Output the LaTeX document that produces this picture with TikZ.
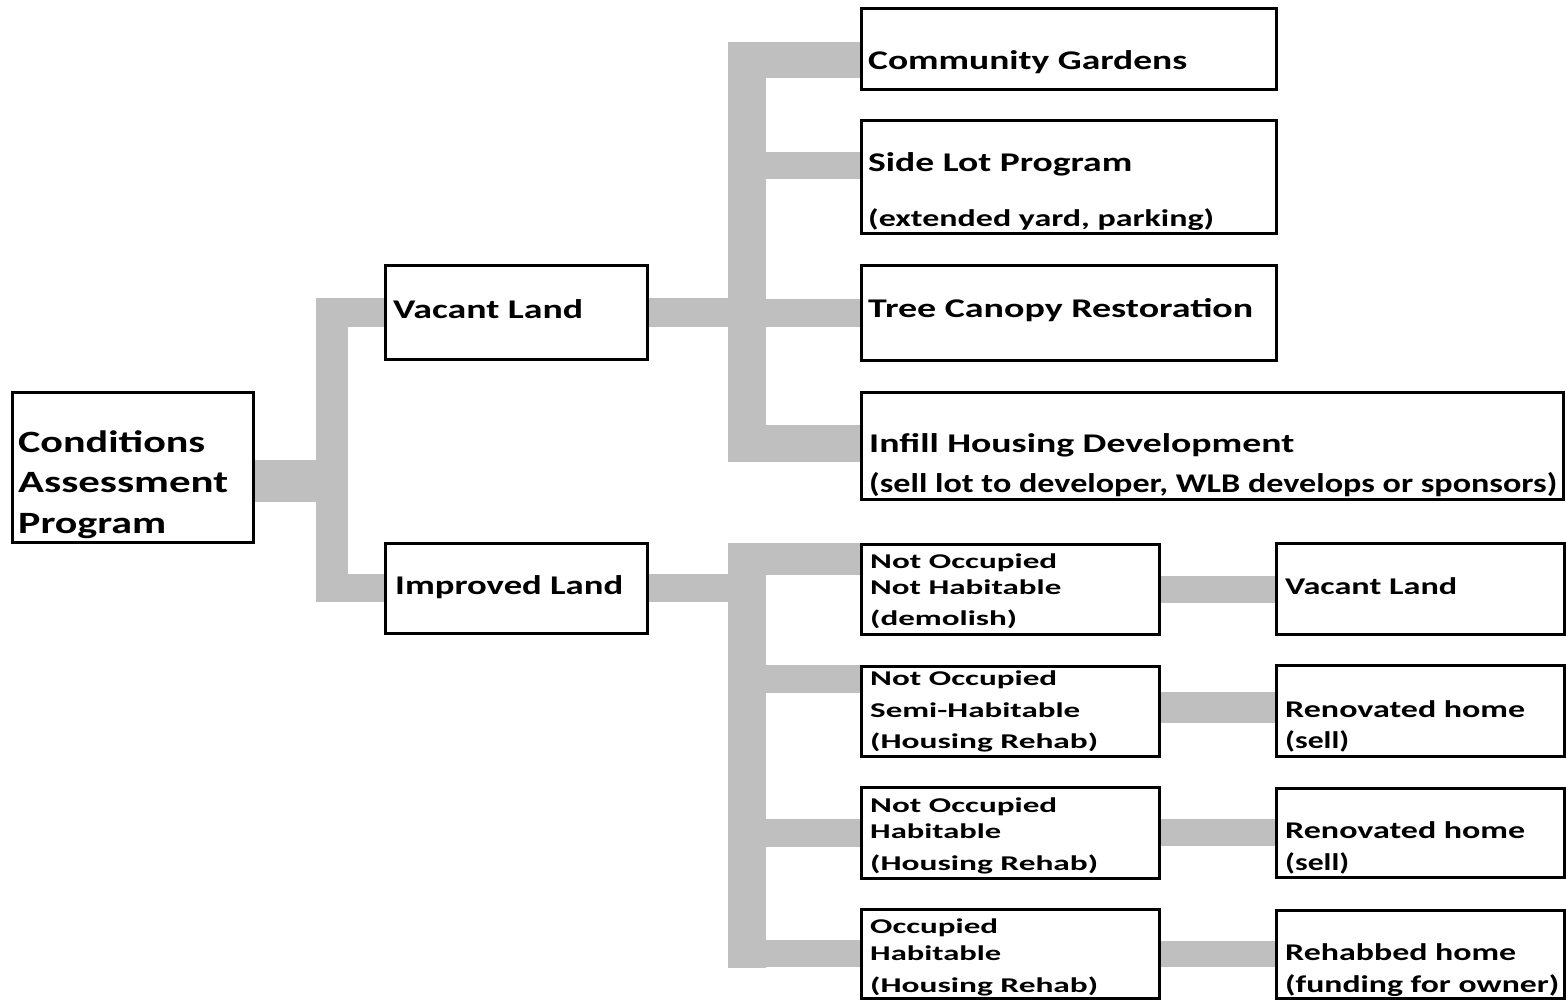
\documentclass[tikz,border=0pt]{standalone}
\usepackage{fontspec}
\setmainfont{Carlito}
\usepackage{graphicx}
\pgfdeclarelayer{bg}
\pgfsetlayers{bg,main}
\definecolor{barg}{HTML}{BFBFBF}
\newcommand{\fitto}[2]{\resizebox{#1pt}{\height}{#2}}
\begin{document}
\begin{tikzpicture}[x=1pt,y=-1pt,
  cbox/.style={draw=black, line width=3pt, fill=white, inner sep=0pt},
  lbl/.style={anchor=base west, inner sep=0pt, text=black},
  gbar/.style={draw=barg, line cap=butt},
  fxl/.style={font=\bfseries\fontsize{31}{36}\selectfont},
  flg/.style={font=\bfseries\fontsize{27}{32}\selectfont},
  fmd/.style={font=\bfseries\fontsize{24}{28}\selectfont},
  fsm/.style={font=\bfseries\fontsize{21}{25}\selectfont}]
\useasboundingbox (0,0) rectangle (1566,1000);

% ---------- boxes ----------
\node[cbox, minimum width=241pt, minimum height=150pt] (cond) at (132.5,467) {};
\node[cbox, minimum width=262pt, minimum height=93pt] (vac) at (516,312.5) {};
\node[cbox, minimum width=262pt, minimum height=90pt] (imp) at (516,588) {};
\node[cbox, minimum width=415pt, minimum height=81pt] (cg) at (1068.5,49.5) {};
\node[cbox, minimum width=415pt, minimum height=113pt] (side) at (1068.5,177.5) {};
\node[cbox, minimum width=415pt, minimum height=94pt] (tree) at (1068.5,313) {};
\node[cbox, minimum width=702pt, minimum height=107pt] (infill) at (1212,445.5) {};
\node[cbox, minimum width=298pt, minimum height=90pt] (n1) at (1010,589) {};
\node[cbox, minimum width=298pt, minimum height=90pt] (n2) at (1010,711) {};
\node[cbox, minimum width=298pt, minimum height=91pt] (n3) at (1010,832.5) {};
\node[cbox, minimum width=298pt, minimum height=89pt] (n4) at (1010,953.5) {};
\node[cbox, minimum width=288pt, minimum height=91pt] (r1) at (1420,588.5) {};
\node[cbox, minimum width=288pt, minimum height=91pt] (r2) at (1420,710.5) {};
\node[cbox, minimum width=288pt, minimum height=89pt] (r3) at (1420,832.5) {};
\node[cbox, minimum width=288pt, minimum height=88pt] (r4) at (1420,954) {};

% ---------- labels ----------
\node[lbl, fxl] (condt1) at (18,452) {\fitto{187}{Conditions}};
\node[lbl, fxl] (condt2) at (18,492) {\fitto{210}{Assessment}};
\node[lbl, fxl] (condt3) at (18,533) {\fitto{148}{Program}};

\node[lbl, flg] (vact) at (393,319) {\fitto{190}{Vacant Land}};
\node[lbl, flg] (impt) at (395,594) {\fitto{228}{Improved Land}};

\node[lbl, flg] (cgt) at (868,70) {\fitto{319}{Community Gardens}};
\node[lbl, flg] (sidet1) at (868,172) {\fitto{264}{Side Lot Program}};
\node[lbl, fmd] (sidet2) at (868,227) {\fitto{346}{(extended yard, parking)}};
\node[lbl, flg] (treet) at (868,318) {\fitto{385}{Tree Canopy Restoration}};
\node[lbl, flg] (infillt1) at (869,452) {\fitto{425}{Infill Housing Development}};
\node[lbl, flg] (infillt2) at (869,492) {\fitto{688}{(sell lot to developer, WLB develops or sponsors)}};

\node[lbl, fsm] (n1t1) at (870,568) {\fitto{187}{Not Occupied}};
\node[lbl, fsm] (n1t2) at (870,594) {\fitto{191}{Not Habitable}};
\node[lbl, fsm] (n1t3) at (870,625) {\fitto{147}{(demolish)}};
\node[lbl, fsm] (n2t1) at (870,685) {\fitto{187}{Not Occupied}};
\node[lbl, fsm] (n2t2) at (870,717) {\fitto{210}{Semi-Habitable}};
\node[lbl, fsm] (n2t3) at (870,748) {\fitto{228}{(Housing Rehab)}};
\node[lbl, fsm] (n3t1) at (870,812) {\fitto{187}{Not Occupied}};
\node[lbl, fsm] (n3t2) at (870,838) {\fitto{131}{Habitable}};
\node[lbl, fsm] (n3t3) at (870,870) {\fitto{228}{(Housing Rehab)}};
\node[lbl, fsm] (n4t1) at (870,933) {\fitto{128}{Occupied}};
\node[lbl, fsm] (n4t2) at (870,960) {\fitto{131}{Habitable}};
\node[lbl, fsm] (n4t3) at (870,992) {\fitto{228}{(Housing Rehab)}};

\node[lbl, fmd] (r1t1) at (1285,594) {\fitto{172}{Vacant Land}};
\node[lbl, fmd] (r2t1) at (1285,717) {\fitto{240}{Renovated home}};
\node[lbl, fmd] (r2t2) at (1285,748) {\fitto{64}{(sell)}};
\node[lbl, fmd] (r3t1) at (1285,838) {\fitto{240}{Renovated home}};
\node[lbl, fmd] (r3t2) at (1285,870) {\fitto{64}{(sell)}};
\node[lbl, fmd] (r4t1) at (1285,960) {\fitto{231}{Rehabbed home}};
\node[lbl, fmd] (r4t2) at (1285,992) {\fitto{274}{(funding for owner)}};

% ---------- connectors ----------
\coordinate (ja) at (332,481);
\coordinate (jat) at (332,298);
\coordinate (jab) at (332,602);
\coordinate (jb) at (747,312);
\coordinate (jbt) at (747,42);
\coordinate (jbb) at (747,462);
\coordinate (cgj) at (728,60);
\coordinate (sj) at (747,165.5);
\coordinate (ij) at (747,443.5);
\coordinate (jc) at (747,588);
\coordinate (jct) at (747,543);
\coordinate (jcb) at (747,968);
\coordinate (n1j) at (728,559);
\coordinate (n2j) at (747,679);
\coordinate (k2) at (1159,707.5);

\begin{pgfonlayer}{bg}
  % Conditions -> Vacant / Improved
  \draw[gbar, line width=42pt] (ja -| cond.east) -- (ja);
  \draw[gbar, line width=32pt] (jat) -- (jab);
  \draw[gbar, line width=28pt] (jat |- vac.west) -- (vac.west);
  \draw[gbar, line width=28pt] (jab |- imp.west) -- (imp.west);
  % Vacant Land -> uses
  \draw[gbar, line width=28pt] (vac.east) -- (vac.east -| jb);
  \draw[gbar, line width=38pt] (jbt) -- (jbb);
  \draw[gbar, line width=36pt] (cgj) -- (cgj -| cg.west);
  \draw[gbar, line width=27pt] (sj) -- (sj -| side.west);
  \draw[gbar, line width=28pt] (jb |- tree.west) -- (tree.west);
  \draw[gbar, line width=37pt] (ij) -- (ij -| infill.west);
  % Improved Land -> conditions
  \draw[gbar, line width=28pt] (imp.east) -- (imp.east -| jc);
  \draw[gbar, line width=38pt] (jct) -- (jcb);
  \draw[gbar, line width=32pt] (n1j) -- (n1j -| n1.west);
  \draw[gbar, line width=28pt] (n2j) -- (n2j -| n2.west);
  \draw[gbar, line width=28pt] (jc |- n3.west) -- (n3.west);
  \draw[gbar, line width=27pt] (jc |- n4.west) -- (n4.west);
  % outcomes
  \draw[gbar, line width=27pt] (n1.east) -- (n1.east -| r1.west);
  \draw[gbar, line width=31pt] (k2) -- (k2 -| r2.west);
  \draw[gbar, line width=27pt] (n3.east) -- (n3.east -| r3.west);
  \draw[gbar, line width=26pt] (n4.east) -- (n4.east -| r4.west);
\end{pgfonlayer}
\end{tikzpicture}
\end{document}
